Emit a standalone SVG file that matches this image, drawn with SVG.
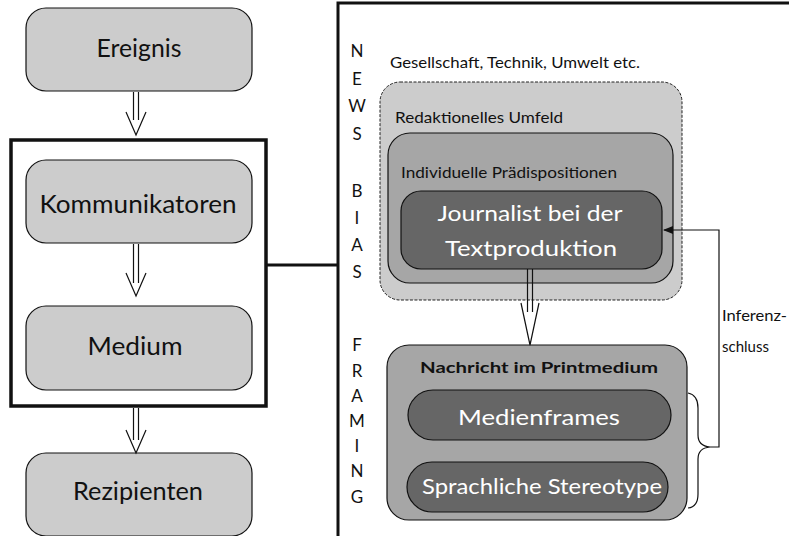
<svg xmlns="http://www.w3.org/2000/svg" width="789" height="536" viewBox="0 0 789 536">
<style>
text{font-family:Lato,"Open Sans","Liberation Sans",sans-serif;fill:#111}
.node{fill:#cccccc;stroke:#111;stroke-width:1.2}
.mid{fill:#a6a6a6;stroke:#111;stroke-width:1.2}
.dark{fill:#666666;stroke:#111;stroke-width:1.2}
.lbl{font-size:25px;text-anchor:middle}
.wt{font-size:22px;fill:#fff;text-anchor:middle}
.sm{font-size:16px}
.let{font-size:17px;text-anchor:middle}
.ln{stroke:#111;stroke-width:1.2;fill:none}
</style>
<defs>
<marker id="tri" markerWidth="10" markerHeight="8" refX="9" refY="4" orient="auto" markerUnits="userSpaceOnUse">
<path d="M0,0 L10,4 L0,8 Z" fill="#111"/>
</marker>
</defs>
<rect width="789" height="536" fill="#fff"/>

<g id="frame-left">
<rect x="11" y="140" width="255" height="266" fill="none" stroke="#111" stroke-width="3.5"/>
</g>
<g id="frame-right">
<path d="M338,536 L338,3 L789,3" fill="none" stroke="#111" stroke-width="3"/>
</g>

<g id="ereignis">
<rect class="node" x="26" y="8" width="226" height="83" rx="20"/>
<text class="lbl" x="139" y="57" textLength="85" lengthAdjust="spacingAndGlyphs">Ereignis</text>
</g>
<g id="kommunikatoren">
<rect class="node" x="26" y="160" width="226" height="83" rx="20"/>
<text class="lbl" x="138" y="213" textLength="197" lengthAdjust="spacingAndGlyphs">Kommunikatoren</text>
</g>
<g id="medium">
<rect class="node" x="26" y="306" width="226" height="84" rx="20"/>
<text class="lbl" x="135" y="355" textLength="95" lengthAdjust="spacingAndGlyphs">Medium</text>
</g>
<g id="rezipienten">
<rect class="node" x="26" y="453" width="226" height="83" rx="20"/>
<text class="lbl" x="138" y="500" textLength="130" lengthAdjust="spacingAndGlyphs">Rezipienten</text>
</g>

<g id="news-bias-framing">
<text class="let" x="357" y="57">N</text>
<text class="let" x="357" y="85">E</text>
<text class="let" x="357" y="112">W</text>
<text class="let" x="357" y="140">S</text>
<text class="let" x="357" y="197">B</text>
<text class="let" x="357" y="224">I</text>
<text class="let" x="357" y="251">A</text>
<text class="let" x="357" y="278">S</text>
<text class="let" x="357" y="351">F</text>
<text class="let" x="357" y="377">R</text>
<text class="let" x="357" y="402">A</text>
<text class="let" x="357" y="427">M</text>
<text class="let" x="357" y="452">I</text>
<text class="let" x="357" y="477">N</text>
<text class="let" x="357" y="503">G</text>
</g>

<g id="gesellschaft">
<text class="sm" x="390" y="68" textLength="250" lengthAdjust="spacingAndGlyphs">Gesellschaft, Technik, Umwelt etc.</text>
</g>
<g id="redaktionelles-umfeld">
<rect x="380" y="82" width="302" height="218" rx="20" fill="#cccccc" stroke="#222" stroke-width="1" stroke-dasharray="3,1.5"/>
<text class="sm" x="395" y="123" textLength="168" lengthAdjust="spacingAndGlyphs">Redaktionelles Umfeld</text>
</g>
<g id="praedispositionen">
<rect class="mid" x="388" y="133" width="285" height="150" rx="22"/>
<text class="sm" x="401" y="178" textLength="216" lengthAdjust="spacingAndGlyphs">Individuelle Prädispositionen</text>
</g>
<g id="journalist">
<rect class="dark" x="401" y="191" width="261" height="78" rx="20"/>
<text class="wt" x="530" y="221" font-size="24" textLength="185" lengthAdjust="spacingAndGlyphs">Journalist bei der</text>
<text class="wt" x="531" y="256" font-size="24" textLength="172" lengthAdjust="spacingAndGlyphs">Textproduktion</text>
</g>
<g id="nachricht">
<rect class="mid" x="387" y="345" width="300" height="175" rx="22"/>
<text x="539" y="373" font-size="16" font-weight="bold" text-anchor="middle" textLength="238" lengthAdjust="spacingAndGlyphs">Nachricht im Printmedium</text>
</g>
<g id="medienframes">
<rect class="dark" x="408" y="390" width="263" height="50" rx="25"/>
<text class="wt" x="539" y="425" textLength="162" lengthAdjust="spacingAndGlyphs">Medienframes</text>
</g>
<g id="stereotype">
<rect class="dark" x="407" y="462" width="261" height="50" rx="25"/>
<text class="wt" x="542" y="494" textLength="240" lengthAdjust="spacingAndGlyphs">Sprachliche Stereotype</text>
</g>
<g id="inferenzschluss-label">
<text x="722" y="321" font-size="15" textLength="65" lengthAdjust="spacingAndGlyphs">Inferenz-</text>
<text x="722" y="352" font-size="15">schluss</text>
</g>

<g id="connectors">
<path d="M266,265 L338,265" stroke="#111" stroke-width="3"/>
<line class="ln" x1="133.5" y1="92" x2="133.5" y2="120"/>
<line class="ln" x1="138.5" y1="92" x2="138.5" y2="120"/>
<polyline class="ln" points="126,112 136,135 146,112"/>
<line class="ln" x1="133.5" y1="244" x2="133.5" y2="283"/>
<line class="ln" x1="138.5" y1="244" x2="138.5" y2="283"/>
<polyline class="ln" points="126,273 136,296 146,273"/>
<line class="ln" x1="133.5" y1="408" x2="133.5" y2="440"/>
<line class="ln" x1="138.5" y1="408" x2="138.5" y2="440"/>
<polyline class="ln" points="126,430 136,453 146,430"/>
<line class="ln" x1="527.5" y1="269" x2="527.5" y2="312"/>
<line class="ln" x1="532.5" y1="269" x2="532.5" y2="312"/>
<polyline class="ln" points="521,303 530,345 539,303"/>
<path class="ln" d="M688,393 Q698,395 698,408 L698,435 Q698,446 710,447 Q698,448 698,459 L698,494 Q698,507 688,508"/>
<path class="ln" d="M710,447 L719,447 L719,230 L664,230" stroke-width="1" marker-end="url(#tri)"/>
</g>
</svg>
